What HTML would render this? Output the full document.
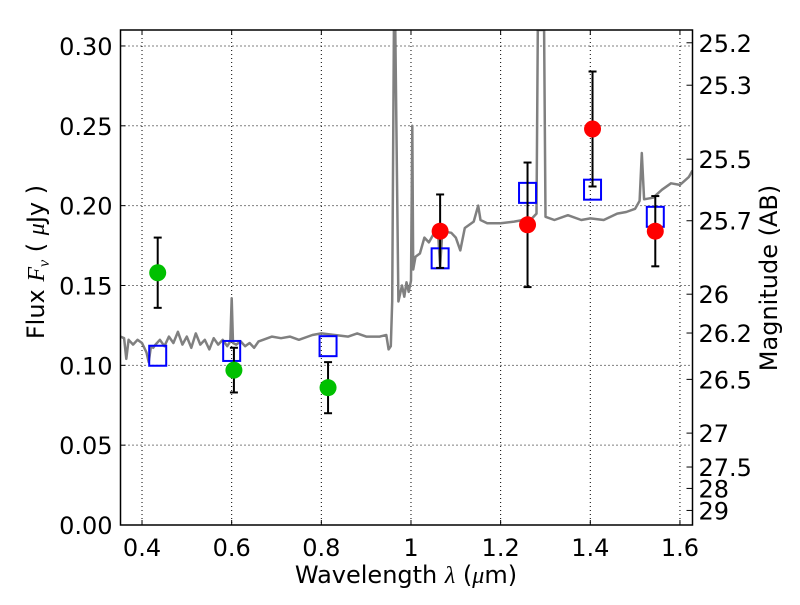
<!DOCTYPE html>
<html><head><meta charset="utf-8"><style>
body{margin:0;background:#fff;}
svg{font-family:"DejaVu Sans","Liberation Sans",sans-serif;}
</style></head><body>
<svg id="chart" width="800" height="600" xmlns="http://www.w3.org/2000/svg"></svg>
<script>
const specWave=[0.352,0.36,0.365,0.37,0.38,0.39,0.40,0.41,0.415,0.42,0.425,0.43,0.44,0.45,0.46,0.47,0.48,0.49,0.50,0.51,0.52,0.53,0.54,0.55,0.56,0.57,0.58,0.59,0.597,0.600,0.603,0.61,0.62,0.63,0.64,0.65,0.66,0.67,0.69,0.71,0.73,0.75,0.78,0.80,0.83,0.86,0.88,0.90,0.93,0.945,0.95,0.955,0.958,0.962,0.965,0.972,0.976,0.98,0.985,0.99,0.995,1.0,1.003,1.005,1.01,1.02,1.03,1.04,1.05,1.06,1.065,1.07,1.09,1.10,1.11,1.12,1.14,1.15,1.155,1.17,1.20,1.23,1.25,1.27,1.28,1.283,1.29,1.297,1.30,1.32,1.35,1.38,1.40,1.43,1.46,1.48,1.50,1.51,1.515,1.52,1.54,1.56,1.58,1.60,1.62,1.628];
const specFlux=[0.118,0.117,0.104,0.116,0.113,0.116,0.114,0.108,0.102,0.112,0.111,0.113,0.116,0.112,0.118,0.114,0.121,0.113,0.118,0.111,0.120,0.113,0.116,0.110,0.117,0.113,0.116,0.112,0.115,0.142,0.114,0.113,0.115,0.112,0.114,0.111,0.115,0.116,0.118,0.117,0.118,0.116,0.119,0.120,0.119,0.118,0.120,0.118,0.118,0.119,0.110,0.112,0.140,0.31,0.31,0.14,0.145,0.150,0.143,0.152,0.146,0.153,0.25,0.160,0.168,0.170,0.180,0.177,0.182,0.185,0.162,0.184,0.183,0.180,0.172,0.186,0.190,0.200,0.191,0.189,0.189,0.190,0.191,0.192,0.195,0.31,0.31,0.31,0.193,0.191,0.194,0.191,0.192,0.191,0.195,0.196,0.198,0.203,0.233,0.204,0.205,0.210,0.214,0.213,0.218,0.222];
const greenWave=[0.435,0.605,0.815];
const greenFlux=[0.158,0.097,0.086];
const greenErr=[0.022,0.014,0.016];
const redWave=[1.065,1.26,1.405,1.545];
const redFlux=[0.184,0.188,0.248,0.184];
const redErr=[0.023,0.039,0.036,0.022];
const modelWave=[0.435,0.600,0.815,1.065,1.26,1.405,1.545];
const modelFlux=[0.106,0.109,0.112,0.167,0.208,0.210,0.193];
const xTicks=[0.4,0.6,0.8,1.0,1.2,1.4,1.6];
const xTickLabels=["0.4","0.6","0.8","1","1.2","1.4","1.6"];
const yTicks=[0,0.05,0.1,0.15,0.2,0.25,0.3];
const yTickLabels=["0.00","0.05","0.10","0.15","0.20","0.25","0.30"];
const magTicks=[25.2,25.3,25.5,25.7,26,26.2,26.5,27,27.5,28,29];
const magTickLabels=["25.2","25.3","25.5","25.7","26","26.2","26.5","27","27.5","28","29"];

const L=120.5,R=692.5,T=30,B=525;
const xmin=0.352,xmax=1.628,ymin=0,ymax=0.31;
const X=v=>L+(v-xmin)/(xmax-xmin)*(R-L);
const Y=v=>B-(v-ymin)/(ymax-ymin)*(B-T);
const NS="http://www.w3.org/2000/svg";
const svg=document.getElementById('chart');
function mk(tag,attrs,parent){const e=document.createElementNS(NS,tag);for(const k in attrs)e.setAttribute(k,attrs[k]);(parent||svg).appendChild(e);return e;}

const defs=mk('defs',{});
const cp=mk('clipPath',{id:'clip'},defs);
mk('rect',{x:L,y:T,width:R-L,height:B-T},cp);

const grid=mk('g',{});


xTicks.forEach(t=>mk('line',{x1:X(t),x2:X(t),y1:T,y2:B,stroke:'#000','stroke-width':1,'stroke-dasharray':'1,3'},grid));
yTicks.forEach(t=>mk('line',{x1:L,x2:R,y1:Y(t),y2:Y(t),stroke:'#000','stroke-width':1,'stroke-dasharray':'1,3'},grid));

const g=mk('g',{'clip-path':'url(#clip)'});
let d='';specWave.forEach((w,i)=>{d+=(i?'L':'M')+X(w).toFixed(1)+','+Y(specFlux[i]).toFixed(1);});
const sp=mk('path',{d:d,fill:'none',stroke:'#808080','stroke-width':2.5,'stroke-linejoin':'round'},g);



function errs(w,f,e,name){
 w.forEach((x,i)=>{
  const eg=mk('g',{});
  
  
  mk('line',{x1:X(x),x2:X(x),y1:Y(f[i]-e[i]),y2:Y(f[i]+e[i]),stroke:'#000','stroke-width':2},eg);
  mk('line',{x1:X(x)-4,x2:X(x)+4,y1:Y(f[i]-e[i]),y2:Y(f[i]-e[i]),stroke:'#000','stroke-width':2},eg);
  mk('line',{x1:X(x)-4,x2:X(x)+4,y1:Y(f[i]+e[i]),y2:Y(f[i]+e[i]),stroke:'#000','stroke-width':2},eg);
 });
}
modelWave.forEach((x,i)=>{
 const r=mk('rect',{x:X(x)-8.5,y:Y(modelFlux[i])-10,width:17,height:20,fill:'none',stroke:'#0000ff','stroke-width':2});
 
 
});
errs(greenWave,greenFlux,greenErr,'green');
errs(redWave,redFlux,redErr,'red');
greenWave.forEach((x,i)=>{
 const c=mk('circle',{cx:X(x),cy:Y(greenFlux[i]),r:8.5,fill:'#00c000'});
 
 
});
redWave.forEach((x,i)=>{
 const c=mk('circle',{cx:X(x),cy:Y(redFlux[i]),r:8.5,fill:'#ff0000'});
 
 
});

const fr=mk('rect',{x:L,y:T,width:R-L,height:B-T,fill:'none',stroke:'#000','stroke-width':1.5});



xTicks.forEach((t,i)=>{
 mk('line',{x1:X(t),x2:X(t),y1:B,y2:B-5,stroke:'#000'});
 mk('line',{x1:X(t),x2:X(t),y1:T,y2:T+5,stroke:'#000'});
 const tx=mk('text',{x:X(t),y:B+31,'font-size':24,'text-anchor':'middle'});tx.textContent=xTickLabels[i];
 
 
});
yTicks.forEach((t,i)=>{
 mk('line',{x1:L,x2:L+5,y1:Y(t),y2:Y(t),stroke:'#000'});
 const tx=mk('text',{x:L-8,y:Y(t)+9,'font-size':24,'text-anchor':'end'});tx.textContent=yTickLabels[i];
 
 
});
magTicks.forEach((m,i)=>{
 const f=Math.pow(10,(23.9-m)/2.5);
 mk('line',{x1:R,x2:R-6,y1:Y(f),y2:Y(f),stroke:'#000'});
 const tx=mk('text',{x:R+6,y:Y(f)+9,'font-size':24});tx.textContent=magTickLabels[i];
 
 
});

const xt=mk('text',{x:406,y:583,'font-size':24,'text-anchor':'middle'});
xt.innerHTML='Wavelength  <tspan font-style="italic" font-family="Liberation Serif, serif">λ</tspan> (<tspan font-style="italic" font-family="Liberation Serif, serif">μ</tspan>m)';
xt.setAttribute('white-space','pre');


const yt=mk('text',{transform:'translate(44,262) rotate(-90)','font-size':24,'text-anchor':'middle'});
yt.innerHTML='Flux  <tspan font-style="italic" font-family="Liberation Serif, serif">F</tspan><tspan font-style="italic" font-family="Liberation Serif, serif" font-size="16" dy="5">ν</tspan><tspan dy="-5">  ( </tspan><tspan font-style="italic" font-family="Liberation Serif, serif">μ</tspan>Jy )';


const rt=mk('text',{transform:'translate(777,278) rotate(-90)','font-size':24,'text-anchor':'middle'});
rt.textContent='Magnitude (AB)';


</script>
</body></html>
